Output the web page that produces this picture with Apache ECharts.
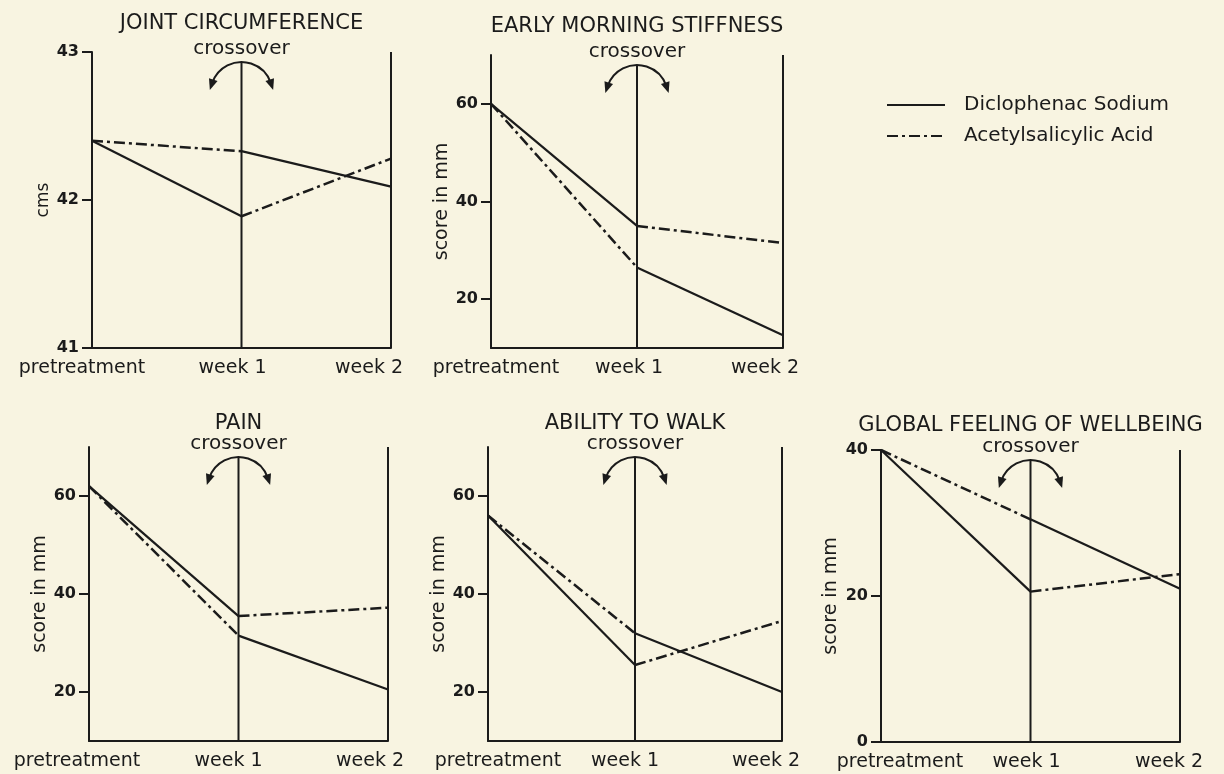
<!DOCTYPE html>
<html>
<head>
<meta charset="utf-8">
<script src="https://cdn.jsdelivr.net/npm/echarts@6/dist/echarts.min.js"></script>
<style>
  html, body { margin: 0; padding: 0; background: #f8f4e1; }
  #chart { width: 1224px; height: 774px; }
</style>
</head>
<body>
<div id="chart"></div>
<script>
// ---------------- DATA ----------------
const categories = ['pretreatment', 'week 1', 'week 2'];
const panelTitles = ['JOINT CIRCUMFERENCE', 'EARLY MORNING STIFFNESS', 'PAIN', 'ABILITY TO WALK', 'GLOBAL FEELING OF WELLBEING'];
const axisNames = ['cms', 'score in mm', 'score in mm', 'score in mm', 'score in mm'];
const seriesNames = ['Diclophenac Sodium', 'Acetylsalicylic Acid'];
const crossoverLabel = 'crossover';

// Group A: Diclophenac Sodium first, Acetylsalicylic Acid after crossover
// Group B: Acetylsalicylic Acid first, Diclophenac Sodium after crossover
const jointA = [42.4, 41.89, 42.28];
const jointB = [42.4, 42.33, 42.09];
const stiffA = [60, 35, 31.5];
const stiffB = [60, 26.5, 12.6];
const painA = [62, 35.5, 37.2];
const painB = [62, 31.5, 20.5];
const walkA = [56, 25.5, 34.5];
const walkB = [56, 32, 20];
const globalA = [40, 20.6, 23];
const globalB = [40, 30.5, 21];

const jointTicks = [41, 42, 43];
const stiffTicks = [20, 40, 60];
const painTicks = [20, 40, 60];
const walkTicks = [20, 40, 60];
const globalTicks = [0, 20, 40];

const jointRange = [41, 43];
const stiffRange = [10, 70];
const painRange = [10, 70];
const walkRange = [10, 70];
const globalRange = [0, 40];

// ---------------- LAYOUT / STYLE ----------------
const ink = '#1b1b1b';
const font = 'DejaVu Sans';
const dashDot = [11, 4, 3, 4];

const panels = [
  { A: jointA, B: jointB, ticks: jointTicks, range: jointRange, grid: { left: 92, top: 52, width: 299, height: 296 }, shift: [-10, -9, -22], nameSize: 17, nameGap: 40, titleTop: 13 },
  { A: stiffA, B: stiffB, ticks: stiffTicks, range: stiffRange, grid: { left: 491, top: 55, width: 292, height: 293 }, shift: [5, -8, -18], nameSize: 19, nameGap: 39, titleTop: 16 },
  { A: painA, B: painB, ticks: painTicks, range: painRange, grid: { left: 89, top: 447, width: 299, height: 294 }, shift: [-12, -10, -18], nameSize: 19, nameGap: 39, titleTop: 413 },
  { A: walkA, B: walkB, ticks: walkTicks, range: walkRange, grid: { left: 488, top: 447, width: 294, height: 294 }, shift: [10, -10, -16], nameSize: 19, nameGap: 39, titleTop: 413 },
  { A: globalA, B: globalB, ticks: globalTicks, range: globalRange, grid: { left: 881, top: 450, width: 299, height: 292 }, shift: [19, -4, -11], nameSize: 19, nameGap: 40, titleTop: 415 }
];

const grids = [], xAxes = [], yAxes = [], series = [], titles = [];

panels.forEach((p, i) => {
  grids.push(Object.assign({ containLabel: false }, p.grid));
  const rich = {};
  p.shift.forEach((s, k) => {
    rich['s' + k] = {
      fontFamily: font, fontSize: 19, color: ink,
      padding: s < 0 ? [0, -2 * s, 0, 0] : [0, 0, 0, 2 * s]
    };
  });
  xAxes.push({
    type: 'category', gridIndex: i, data: categories, boundaryGap: false,
    axisLine: { show: true, lineStyle: { color: ink, width: 2 } },
    axisTick: { show: false },
    axisLabel: {
      interval: 0, margin: 11,
      formatter: (v, idx) => '{s' + idx + '|' + v + '}',
      rich: rich
    },
    splitLine: { show: true, interval: (idx) => idx === 2, lineStyle: { color: ink, width: 2 } }
  });
  yAxes.push({
    type: 'value', gridIndex: i, min: p.range[0], max: p.range[1],
    name: axisNames[i], nameLocation: 'middle', nameGap: p.nameGap, nameRotate: 90,
    nameTextStyle: { fontFamily: font, fontSize: p.nameSize, color: ink },
    axisLine: { show: true, onZero: false, lineStyle: { color: ink, width: 2 } },
    axisTick: { show: true, length: 10, customValues: p.ticks, lineStyle: { color: ink, width: 2 } },
    axisLabel: { customValues: p.ticks, margin: 13, fontFamily: font, fontSize: 16, fontWeight: 'bold', color: ink },
    splitLine: { show: false }
  });
  const solid = { color: ink, width: 2.2, type: 'solid' };
  const dash = { color: ink, width: 2.5, type: dashDot };
  const common = { type: 'line', xAxisIndex: i, yAxisIndex: i, symbol: 'none', silent: true, animation: false, connectNulls: false };
  series.push(Object.assign({}, common, { name: seriesNames[0], data: [p.A[0], p.A[1], null], lineStyle: solid, itemStyle: { color: ink } }));
  series.push(Object.assign({}, common, { name: seriesNames[0], data: [null, p.B[1], p.B[2]], lineStyle: solid, itemStyle: { color: ink } }));
  series.push(Object.assign({}, common, { name: seriesNames[1], data: [p.B[0], p.B[1], null], lineStyle: dash, itemStyle: { color: ink } }));
  series.push(Object.assign({}, common, { name: seriesNames[1], data: [null, p.A[1], p.A[2]], lineStyle: dash, itemStyle: { color: ink } }));
  titles.push({
    text: panelTitles[i],
    left: p.grid.left + p.grid.width / 2, textAlign: 'center',
    top: p.titleTop, padding: 0,
    textStyle: { fontFamily: font, fontSize: 21, fontWeight: 'normal', color: ink }
  });
});

const chart = echarts.init(document.getElementById('chart'), null, { renderer: 'canvas' });
chart.setOption({
  backgroundColor: '#f8f4e1',
  animation: false,
  title: titles,
  legend: {
    data: seriesNames, orient: 'vertical', left: 881, top: 90,
    itemWidth: 58, itemHeight: 14, itemGap: 11,
    itemStyle: { color: 'rgba(0,0,0,0)', borderWidth: 0, opacity: 0 },
    textStyle: { fontFamily: font, fontSize: 20, color: ink, padding: [0, 0, 0, 14] },
    selectedMode: false
  },
  grid: grids, xAxis: xAxes, yAxis: yAxes, series: series
});

// crossover annotation above week 1
const graphics = [];
panels.forEach((p, i) => {
  const topPt = chart.convertToPixel({ gridIndex: i }, [categories[1], p.range[1]]);
  const botPt = chart.convertToPixel({ gridIndex: i }, [categories[1], p.range[0]]);
  const cx = topPt[0], top = topPt[1] + 10, bottom = botPt[1];
  graphics.push({ type: 'line', silent: true, shape: { x1: cx, y1: top, x2: cx, y2: bottom }, style: { stroke: ink, lineWidth: 2 } });
  const r = 31, phi = 72 * Math.PI / 180, cy = top + r;
  graphics.push({ type: 'arc', silent: true, shape: { cx: cx, cy: cy, r: r, startAngle: -Math.PI / 2 - phi, endAngle: -Math.PI / 2 + phi, clockwise: true }, style: { stroke: ink, lineWidth: 2, fill: null } });
  [-1, 1].forEach(s => {
    const ex = cx + s * r * Math.sin(phi), ey = cy - r * Math.cos(phi);
    const tx = s * Math.cos(phi), ty = Math.sin(phi);
    const nx = -ty, ny = tx;
    const tip = [ex + tx * 7, ey + ty * 7];
    const back = [ex - tx * 4, ey - ty * 4];
    graphics.push({ type: 'polygon', silent: true, shape: { points: [tip, [back[0] + nx * 4.5, back[1] + ny * 4.5], [back[0] - nx * 4.5, back[1] - ny * 4.5]] }, style: { fill: ink } });
  });
  graphics.push({ type: 'text', silent: true, x: cx, y: top - 3, style: { text: crossoverLabel, fontFamily: font, fontSize: 20, fill: ink, align: 'center', verticalAlign: 'bottom' } });
});
chart.setOption({ graphic: graphics });
</script>
</body>
</html>
